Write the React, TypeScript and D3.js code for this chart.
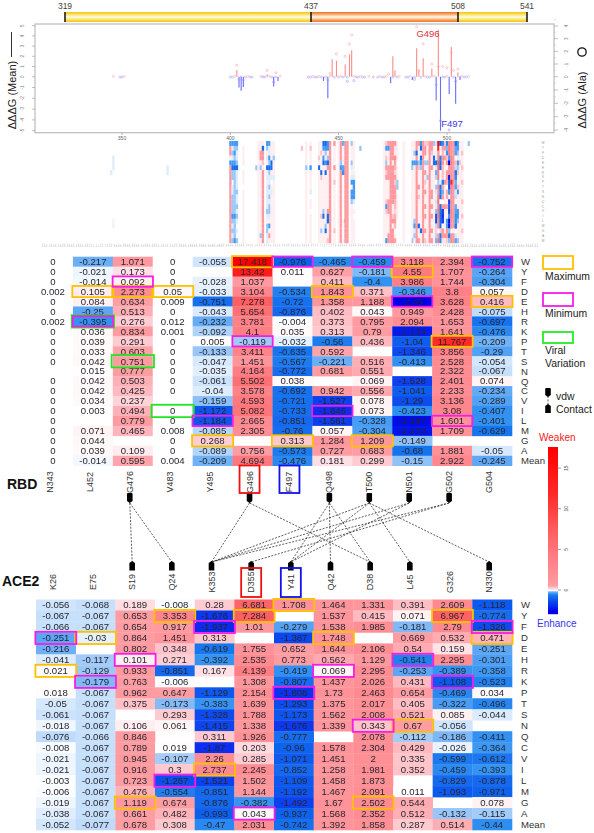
import React, { useEffect, useRef } from "react";
import { select, scaleLinear, scaleBand, range } from "d3";

// ---- heat tables ----
const rowNames = ["W","Y","F","D","E","H","R","K","P","T","S","N","Q","C","V","I","L","M","G","A","Mean"];
const rbdNames = ["N343","L452","G476","V483","Y495","G496","F497","Q498","T500","N501","G502","G504"];
const ace2Names = ["K26","E75","S19","Q24","K353","D355","Y41","Q42","D38","L45","G326","N330"];
const _ = null;

const N343 = [0,0,0,0.002,0,0,0.002,0,0,0,0,_,0,0,0,0,0,0,0,0,0];
const L452 = [-0.217,-0.021,-0.014,0.105,0.084,-0.25,-0.395,0.036,0.039,0.033,0.042,0.015,0.042,0.042,0.034,0.003,_,0.071,0.044,0.039,-0.014];
const G476 = [1.071,0.173,0.092,2.273,0.634,0.513,0.276,0.834,0.291,0.603,0.751,0.777,0.503,0.425,0.237,0.494,0.779,0.465,_,0.109,0.595];
const V483 = [0,0,0,0.05,0.009,0,0.012,0.001,0,0,0,0,0,0,_,0,0,0.008,0,0,0.004];
const Y495 = [-0.055,_,-0.028,-0.033,-0.751,-0.043,-0.232,-0.092,0.005,-0.133,-0.047,-0.035,-0.061,-0.04,-0.159,-1.172,-1.184,-0.085,0.268,-0.089,-0.209];
const G496 = [17.418,13.42,1.037,3.104,7.278,5.654,3.781,4.1,-0.119,3.411,1.451,4.164,5.502,3.578,4.593,5.082,2.665,2.305,_,0.756,4.694];
const F497 = [-0.976,0.011,_,-0.534,-0.72,-0.876,-0.004,0.035,-0.032,-0.635,-0.567,-0.772,0.038,-0.692,-0.721,-0.733,-0.851,-0.76,0.313,-0.573,-0.476];
const Q498 = [-0.465,0.627,0.411,1.843,1.358,0.402,0.373,0.313,-0.56,0.592,-0.221,0.681,_,0.942,-1.527,-1.845,-1.561,0.057,1.284,0.727,0.181];
const T500 = [-0.459,-0.181,-0.4,0.371,1.188,0.043,0.795,0.79,0.436,_,0.516,0.551,0.069,0.556,0.078,0.073,-0.328,-0.304,1.209,0.683,0.299];
const N501 = [3.118,4.55,3.986,-0.346,-2.49,0.949,2.094,-2.134,-1.04,-1.346,-0.413,_,-1.528,-1.041,-1.29,-0.423,-2.397,-2.273,-0.149,-0.68,-0.15];
const G502 = [2.394,1.707,1.744,3.8,3.628,2.428,1.653,1.641,11.767,3.856,2.528,2.322,2.401,2.233,3.136,3.08,1.601,1.709,_,1.881,2.922];
const G504 = [-0.752,-0.264,-0.304,0.057,0.416,-0.075,-0.697,-0.476,-0.209,-0.29,-0.054,-0.067,0.074,-0.234,-0.289,-0.407,-0.401,-0.629,_,-0.05,-0.245];
const rbdColumns = [N343,L452,G476,V483,Y495,G496,F497,Q498,T500,N501,G502,G504];

const K26 = [-0.056,-0.067,-0.066,-0.251,-0.216,-0.041,0.021,_,0.018,-0.05,-0.061,-0.018,-0.076,-0.008,-0.021,-0.021,-0.003,-0.006,-0.019,-0.038,-0.052];
const E75 = [-0.068,-0.067,-0.067,-0.03,_,-0.117,-0.129,-0.179,-0.067,-0.067,-0.067,-0.067,-0.066,-0.067,-0.067,-0.067,-0.067,-0.067,-0.067,-0.067,-0.077];
const S19 = [0.189,0.653,0.654,0.864,0.802,0.101,0.933,0.763,0.962,0.375,_,0.106,0.846,0.789,0.945,0.916,0.723,0.476,1.119,0.661,0.678];
const Q24 = [-0.008,3.353,0.917,1.451,0.348,0.271,-0.851,-0.006,0.647,-0.173,0.293,0.061,_,0.019,-0.107,0.3,-1.267,-0.554,0.674,0.482,0.308];
const K353 = [0.28,-1.676,-1.937,0.313,-0.619,-0.392,0.167,_,-1.129,-0.383,-1.328,-1.415,0.311,-1.87,2.26,2.737,-1.521,-0.851,-0.876,-0.993,-0.47];
const D355 = [6.681,7.284,1.01,_,1.755,2.535,4.139,1.308,2.154,1.639,1.788,1.338,1.926,0.203,0.285,2.245,1.502,1.144,-0.382,0.043,2.031];
const Y41 = [1.708,_,-0.279,-1.387,0.652,0.773,-0.419,-0.807,-1.808,-1.293,-1.173,-1.676,-0.777,-0.96,-1.071,-0.852,-1.109,-1.192,-1.492,-0.937,-0.742];
const Q42 = [1.464,1.537,1.538,1.748,1.644,0.562,0.069,1.437,1.73,1.375,1.562,1.339,_,1.578,1.451,1.258,1.458,1.467,1.67,1.568,1.392];
const D38 = [1.331,0.415,1.985,_,2.106,1.129,2.295,2.026,2.463,2.017,2.008,0.343,2.078,2.304,2,1.981,1.873,2.091,2.502,2.352,1.858];
const L45 = [0.391,0.071,-0.181,0.669,0.54,-0.541,-0.253,0.431,0.654,0.405,0.521,0.67,-0.112,0.429,0.335,0.352,_,0.011,0.544,0.512,0.287];
const G326 = [2.609,6.967,2.79,0.532,0.159,2.295,-0.389,-1.108,-0.469,-0.322,0.085,-0.056,-0.186,-0.026,-0.599,-0.459,-0.829,-1.093,_,-0.132,0.514];
const N330 = [-1.118,-0.774,-1.326,0.471,-0.251,-0.301,-0.358,-0.523,0.034,-0.496,-0.044,_,-0.411,-0.364,-0.612,-0.393,-0.878,-0.971,0.078,-0.115,-0.44];
const ace2Columns = [K26,E75,S19,Q24,K353,D355,Y41,Q42,D38,L45,G326,N330];

// highlighted cells: [column, row]
const rbdMax = [["L452","D"],["G476","D"],["V483","D"],["Y495","G"],["G496","W"],["F497","G"],["Q498","D"],["T500","G"],["N501","Y"],["G502","P"],["G504","E"]];
const rbdMin = [["L452","R"],["G476","F"],["Y495","L"],["G496","P"],["F497","W"],["Q498","I"],["T500","W"],["N501","E"],["G502","L"],["G504","W"]];
const rbdViral = [["L452","R"],["G476","S"],["V483","I"]];
const ace2Max = [["K26","R"],["E75","D"],["S19","G"],["Q24","Y"],["K353","I"],["D355","Y"],["Y41","W"],["Q42","D"],["D38","G"],["L45","N"],["G326","Y"],["N330","D"]];
const ace2Min = [["K26","D"],["E75","K"],["S19","H"],["Q24","L"],["K353","F"],["D355","A"],["Y41","P"],["Q42","R"],["D38","N"],["L45","H"],["G326","K"],["N330","F"]];

// contacts between the RBD and ACE2 residues
const contacts = [["G476","S19"],["G476","Q24"],["G496","K353"],["G496","D38"],["Q498","Y41"],["Q498","Q42"],["Q498","D38"],
  ["T500","K353"],["T500","Y41"],["T500","L45"],["T500","N330"],["N501","K353"],["N501","Y41"],["G502","K353"],["G502","D355"]];
const rbdPins = ["G476","G496","Q498","T500","N501","G502"];
const ace2Pins = ["S19","Q24","K353","D355","Y41","Q42","D38","L45","N330"];

// top panel, ddG per residue
const meanResidues = [403,404,405,406,415,417,420,422,443,445,447,449,453,455,456,474,475,476,484,486,487,489,493,495,496,497,501,502,504,505,506];
const meanValues = [0.65,-1,-1.3,-0.95,0.1,0.25,-0.9,-0.4,-0.4,-2,1.7,1.55,1.2,2.2,2.6,-0.6,2,0.6,-0.3,2.8,0.6,1.8,0.8,-2.2,4.6,-5,-1.6,2.9,-2.5,0.4,-0.3];
const alaResidues = [486,456,455,449,453,403,489,493,496,498,500,505,417,421,487,502,503,446,473,495,497,501,504,454,420,457,445,485,404,406];
const alaValues = [3.95,3.3,2.6,1.8,1.6,0.9,2.6,1,0.8,0.8,0.7,0.6,0.5,0.3,0.5,1.9,0.5,0.25,0.2,-0.6,-3.3,-4,-0.35,-0.35,-0.4,-0.3,-0.25,-0.2,-0.2,-0.25];
const baseResidues = [346,349,350,351,400,401,402,405,407,408,409,410,414,415,416,418,419,421,423,436,437,438,439,440,441,442,444,446,448,450,451,452,454,457,458,459,460,461,462,464,466,468,469,470,471,472,475,477,478,481,482,483,485,488,490,491,492,494,498,499,500,503,506,507,508,509,510];
const leftTicks = [-5,-4,-3,-2,-1,0,1,2,3,4,5];
const rightTicks = [-4,-3,-2,-1,0,1,2,3,4];
const xTicks = [350,400,450,500];
const domainLabels = ["319","437","508","541"];

// small heat panel: residues outside the table, coded per row (W ... Mean)
const heatCodes = { ".":0, ",":0.1, "p":0.35, "r":1.1, "~":-0.04, "b":-0.13, "B":-0.35, "D":-0.8 };
const heatResidues = [345,346,371,400,401,402,403,406,412,413,414,415,417,418,419,420,433,435,437,441,442,443,444,445,446,448,450,451,452,453,454,456,457,460,471,472,473,474,475,477,480,484,485,486,487,488,489,490,491,492,493,494,499,503,505,506,507,510];
const heatValues = [
  "......~..............","...~~~..........,,...",".....~~..............",
  "Brr,Brrrrrrrrrrrrrrrr","B~b~BDbb.~~bbbbBb~b~b","BbBbBDbbbbbbbbbBbbbbB","Bb~~bD~~~~b~~b~b~.~.b",".,,,,.,,,.,,,,,,,,,,,",
  ".....b...............",",,,,,,,,,,,,,,,,,,,,,",",,rr,b,,,,,,,,,,,,,b,",",Drrp,rrrrrrrrrrrrrrr","Bb,~,D,~,~~~~~b~,bb~~","B~~BbDb~~b~b~bb~,B,r,",",,,,DD,~.,~,,,,,,,,,,",",,,b,,,~,,,,,,,,,,,,,",
  ".p...................",",,,,,b,,,,,,,,,,,,,,,",",p,,,B,,,,~.,,.,,,,,,",",,,p,D,,,,,,,,,,,,,,,",",,p,,,Dp,,,,,,,p,,b,,,",
  "DB,BD,,,,,,,,,bD,,,,,","DBb,B,D,,,,,,,,,,bD,,","BB,bDr,,,,,,,,rDD,,,p","rrrrrrrrrrrrrrrrrrrrr","r,,,,r,,p,,,,,,,,,p,,",",,,,,,,,,,,,,,,,,,,,,",
  "rrrrbBrrrrrrrrrrrrrrr","b,~,Db,,,,,,,,,,,,,,,","rrrrrrrrrrrrrrrrrrrrr","rrrrrrrrrrrrrrrrrrrrr","b,,,b~,~B,BBb,,,,,,,,",",,,,,,,~BBBB~.,.,,,,,",".b...................",
  ",,,,,,,,,,,,,,,,,,,,,","pB,pbrpr,,,,pBp,,,,,B","rB,,,rrr,,,,rrr,,,,rr","rrrrrrrrrrrrrrrrrrrrr","rrrr,rrrrrrrr,,pr,rrr",",,,,.,,,bb.,,,,,.....",",,,,,,,,,,,,,,,,,,,,,",
  ",,,,Bb,,,,,,,,,,,,,,b",",,b,B,,,,,,,,,,,bB~b,","rrDrBrrrrrrrrrrrrrrrr","r,,,bp,,,r,p,,,,,D,,r","BD,DBb,,,,,,,,,,,,D,,","rrrrrrrrrrrrrrrrrrrrr","prr,b,r,p,r,,r,r,,r,p","p,,,b,,b,,,,,,,,,,,,,","rrrrrrrrrrrrrrrrrrrrr","rrp,,r,,,,rr,r,r,,r,r","b,,DD,,,,,,,,,,,,,,,,",
  "pr,r,,,,r,,,,r,,,,,r,","rrrrrrrrrrrrrrrrrr,rr","BBb~Bbp,,pB,,,BBb,,,b",",,,,p,,,,,,,,,,,,,,,,",",,p,,p,,p,,,p,,p,,p,,","b....................",
];
const tableResidues = [343,452,476,483,495,496,497,498,500,501,502,504];

const colorbarTicks = [0,5,10,15];

const heatColor = scaleLinear<string>()
  .domain([-2.5,-2,-1.5,-1,-0.6,-0.4,-0.25,-0.1,-0.05,-0.01,0,0.02,0.1,0.28,0.65,2,4,7.3,11.8,17.4])
  .range(["#0000e8","#0828ee","#0a40ee","#0f60ee","#1a78ee","#3292f2","#5ca6f5","#aacff8","#d5e8fc","#f6faff","#ffffff","#fffcfc","#ffeef0","#ffccd2","#ff9da3","#ff8f95","#ff7f85","#ff5f60","#ff2a2a","#ff0000"])
  .clamp(true);

const FONT = "'Liberation Sans', Arial, sans-serif";

function pinPath(x: number, y0: number, y1: number, down: boolean) {
  // rounded pin; the tapered end points at the dashed line
  const w = 2.8;
  if (down) return `M${x-w},${y0+1} Q${x-w},${y0} ${x-w+1},${y0} L${x+w-1},${y0} Q${x+w},${y0} ${x+w},${y0+1} L${x+w},${y1-2} L${x},${y1} L${x-w},${y1-2} Z`;
  return `M${x},${y0} L${x+w},${y0+2} L${x+w},${y1} L${x-w},${y1} L${x-w},${y0+2} Z`;
}

export default function App() {
  const svgRef = useRef<SVGSVGElement>(null);

  useEffect(() => {
    const svg = select(svgRef.current);
    svg.selectAll("*").remove();

    const defs = svg.append("defs");
    defs.append("filter").attr("id", "soft").append("feGaussianBlur").attr("stdDeviation", 0.7);
    defs.append("filter").attr("id", "softer").append("feGaussianBlur").attr("stdDeviation", 0.25);
    const stripe = (id: string, edge: string, mid: string) => {
      const g = defs.append("linearGradient").attr("id", id).attr("x1", 0).attr("x2", 0).attr("y1", 0).attr("y2", 1);
      [[0, edge], [0.25, mid], [0.5, "#fffbe8"], [0.75, mid], [1, edge]].forEach(([o, c]) =>
        g.append("stop").attr("offset", o as number).attr("stop-color", c as string));
    };
    stripe("gold", "#f2c010", "#fbe46a");
    stripe("orange", "#f07020", "#f9b07a");

    const text = (parent: any, x: number, y: number, s: string, size: number, opts: any = {}) =>
      parent.append("text")
        .attr("x", x).attr("y", y).text(s)
        .attr("font-family", FONT).attr("font-size", size)
        .attr("fill", opts.fill || "#222")
        .attr("font-weight", opts.weight || null)
        .attr("text-anchor", opts.anchor || "start")
        .attr("transform", opts.rotate ? `rotate(-90 ${x} ${y})` : null);

    // ---- domain bar ----
    const barX = scaleLinear().domain([0, 1, 2, 3]).range([65, 311, 458, 527]);
    const bar = svg.append("g");
    domainLabels.slice(0, 3).forEach((_d, i) => {
      bar.append("rect").attr("x", barX(i)).attr("y", 12).attr("width", barX(i + 1) - barX(i)).attr("height", 10)
        .attr("fill", i === 1 ? "url(#orange)" : "url(#gold)");
    });
    domainLabels.forEach((d, i) => {
      bar.append("line").attr("x1", barX(i)).attr("x2", barX(i)).attr("y1", 12).attr("y2", 22).attr("stroke", "#111").attr("stroke-width", 1.5);
      text(bar, barX(i), 9, d, 8.5, { anchor: "middle", fill: "#444" });
    });

    // ---- top bars and points ----
    const x = scaleLinear().domain([350, 500]).range([122, 447]);
    const yMean = scaleLinear().domain([-5, 0, 5]).range([130.7, 76.7, 25.7]);
    const yAla = scaleLinear().domain([-4, 0, 4]).range([130, 76.7, 26]);
    const top = svg.append("g");
    top.append("rect").attr("x", 35).attr("y", 24).attr("width", 519).attr("height", 108.7)
      .attr("fill", "none").attr("stroke", "#bbb").attr("stroke-width", 1.2);

    const marks = top.append("g").attr("filter", "url(#softer)");
    marks.selectAll(".mean").data(meanResidues).join("line")
      .attr("x1", d => x(d)).attr("x2", d => x(d))
      .attr("y1", yMean(0)).attr("y2", (_d, i) => yMean(meanValues[i]))
      .attr("stroke", (_d, i) => meanValues[i] > 0 ? "#ff8a8a" : "#6a6aff").attr("stroke-width", 1.1);
    marks.selectAll(".ala").data(alaResidues).join("circle")
      .attr("cx", d => x(d)).attr("cy", (_d, i) => yAla(alaValues[i])).attr("r", 1.1)
      .attr("fill", "none").attr("stroke", (_d, i) => alaValues[i] > 0 ? "#ffa8a8" : "#9a9aff").attr("stroke-width", 0.6);
    marks.selectAll(".base").data(baseResidues).join("circle")
      .attr("cx", d => x(d)).attr("cy", (_d, i) => yAla(i % 3 === 0 ? 0.03 : -0.03)).attr("r", 1)
      .attr("fill", "none").attr("stroke", (_d, i) => i % 3 === 0 ? "#ffb0b0" : "#a8a8ff").attr("stroke-width", 0.6);

    leftTicks.forEach(t => {
      top.append("line").attr("x1", 32).attr("x2", 35).attr("y1", yMean(t)).attr("y2", yMean(t)).attr("stroke", "#999").attr("stroke-width", 0.6);
      text(top, 24, yMean(t), String(t), 4.5, { rotate: true, anchor: "middle", fill: "#777" });
    });
    rightTicks.forEach(t => {
      top.append("line").attr("x1", 554).attr("x2", 558).attr("y1", yAla(t)).attr("y2", yAla(t)).attr("stroke", "#999").attr("stroke-width", 0.6);
      top.append("line").attr("x1", 554).attr("x2", 556).attr("y1", yAla(t + 0.5)).attr("y2", yAla(t + 0.5)).attr("stroke", "#bbb").attr("stroke-width", 0.5);
      text(top, 568, yAla(t), String(t), 4.5, { rotate: true, anchor: "middle", fill: "#777" });
    });
    xTicks.forEach(t => {
      top.append("line").attr("x1", x(t)).attr("x2", x(t)).attr("y1", 132.7).attr("y2", 135).attr("stroke", "#999").attr("stroke-width", 0.7);
      text(top, x(t), 140, String(t), 5, { anchor: "middle", fill: "#666" });
    });

    text(top, 428, 37, "G496", 9.5, { anchor: "middle", fill: "#e5303a" });
    text(top, 452, 127, "F497", 9.5, { anchor: "middle", fill: "#3a3ae0" });
    text(top, 16, 95, "ΔΔΔG (Mean)", 11, { rotate: true, anchor: "middle", fill: "#222" });
    text(top, 586, 100, "ΔΔΔG (Ala)", 11, { rotate: true, anchor: "middle", fill: "#222" });
    top.append("line").attr("x1", 11.5).attr("x2", 11.5).attr("y1", 32).attr("y2", 57).attr("stroke", "#333").attr("stroke-width", 1);
    top.append("circle").attr("cx", 582).attr("cy", 52).attr("r", 4.2).attr("fill", "none").attr("stroke", "#111").attr("stroke-width", 1.3);

    // ---- small heat panel ----
    const heatRow = scaleBand().domain(rowNames).range([141, 243]);
    const heat = svg.append("g").attr("filter", "url(#soft)");
    const w = x(351) - x(350);
    const heatData: { res: number; row: string; v: number }[] = [];
    heatResidues.forEach((res, i) => {
      heatValues[i].padEnd(21, ".").slice(0, 21).split("").forEach((c, r) => {
        heatData.push({ res, row: rowNames[r], v: heatCodes[c] });
      });
    });
    tableResidues.forEach((res, i) => {
      rbdColumns[i].forEach((v, r) => heatData.push({ res, row: rowNames[r], v: v === null ? 0 : v }));
    });
    heat.selectAll("rect").data(heatData.filter(d => d.v !== 0)).join("rect")
      .attr("x", d => x(d.res) - w / 2).attr("width", w + 0.2)
      .attr("y", d => heatRow(d.row)).attr("height", heatRow.bandwidth() + 0.2)
      .attr("fill", d => heatColor(d.v));

    const strip = svg.append("g");
    range(319, 541).forEach((r, i) => {
      const px = 43 + (i * (540 - 43)) / 222;
      text(strip, px, 247, String(r), 2, { rotate: true, fill: "#999" });
    });
    rowNames.forEach(r => {
      text(strip, 543, heatRow(r) + heatRow.bandwidth() / 2 + 1, r === "Mean" ? "M" : r, 3.2, { anchor: "middle", fill: "#999" });
    });

    // ---- large tables ----
    const drawTable = (names: string[], columns: (number | null)[][], x0: number, x1: number, y0: number, y1: number, size: number) => {
      const cx = scaleBand().domain(names).range([x0, x1]);
      const cy = scaleBand().domain(rowNames).range([y0, y1]);
      const g = svg.append("g").attr("filter", "url(#softer)");
      names.forEach((name, c) => {
        const cells = columns[c].map((v, r) => ({ v, row: rowNames[r] })).filter(d => d.v !== null);
        g.selectAll(`.c${c}`).data(cells).join("rect")
          .attr("x", cx(name)).attr("y", d => cy(d.row))
          .attr("width", cx.bandwidth() + 0.3).attr("height", cy.bandwidth() + 0.3)
          .attr("fill", d => heatColor(d.v));
        cells.forEach(d => {
          text(g, cx(name) + cx.bandwidth() / 2, cy(d.row) + cy.bandwidth() / 2 + 3.3, String(d.v), size, { anchor: "middle", fill: "#26262e" });
        });
      });
      return { cx, cy, g };
    };

    const rbd = drawTable(rbdNames, rbdColumns, 33, 512, 256.7, 465.7, 9.6);
    const ace2 = drawTable(ace2Names, ace2Columns, 36, 512, 599.5, 830, 9.6);

    const boxes = (t: any, cells: string[][], color: string, pad: number) => {
      cells.forEach(([c, r]) => {
        t.g.append("rect")
          .attr("x", t.cx(c) - pad).attr("y", t.cy(r) - pad)
          .attr("width", t.cx.bandwidth() + 2 * pad).attr("height", t.cy.bandwidth() + 2 * pad)
          .attr("fill", "none").attr("stroke", color).attr("stroke-width", 1.8);
      });
    };
    boxes(rbd, rbdViral, "#22e622", 1.2);
    boxes(rbd, rbdMax, "#ffc000", 0.6);
    boxes(rbd, rbdMin, "#f81ce8", 0.2);
    boxes(ace2, ace2Max, "#ffc000", 0.6);
    boxes(ace2, ace2Min, "#f81ce8", 0.6);

    rowNames.forEach(r => {
      text(svg, 521, rbd.cy(r) + rbd.cy.bandwidth() / 2 + 3.4, r, 9.6, { fill: "#333" });
      text(svg, 521, ace2.cy(r) + ace2.cy.bandwidth() / 2 + 3.4, r, 9.6, { fill: "#333" });
    });

    // ---- residue labels, pins and contacts ----
    const rbdLabelX = (n: string) => rbd.cx(n) + rbd.cx.bandwidth() / 2 - 3;
    const ace2LabelX = (n: string) => ace2.cx(n) + ace2.cx.bandwidth() / 2 - 3;
    rbdNames.forEach(n => text(svg, rbdLabelX(n) + 3, 482, n, 9, { rotate: true, anchor: "middle", fill: "#333" }));
    ace2Names.forEach(n => text(svg, ace2LabelX(n) + 3, 582, n, 9, { rotate: true, anchor: "middle", fill: "#333" }));

    const links = svg.append("g");
    contacts.forEach(([a, b]) => {
      links.append("line")
        .attr("x1", rbdLabelX(a)).attr("y1", 503)
        .attr("x2", ace2LabelX(b)).attr("y2", 562)
        .attr("stroke", "#333").attr("stroke-width", 0.8).attr("stroke-dasharray", "2 1.4");
    });
    rbdPins.forEach(n => links.append("path").attr("d", pinPath(rbdLabelX(n), 493, 503, true)).attr("fill", "#000"));
    ace2Pins.forEach(n => links.append("path").attr("d", pinPath(ace2LabelX(n), 561, 570.5, false)).attr("fill", "#000"));

    text(svg, 7, 489, "RBD", 14, { weight: "bold", fill: "#111" });
    text(svg, 2, 586, "ACE2", 14, { weight: "bold", fill: "#111" });

    const frame = (xMid: number, y0: number, y1: number, color: string) =>
      svg.append("rect").attr("x", xMid - 10).attr("y", y0).attr("width", 20).attr("height", y1 - y0)
        .attr("fill", "none").attr("stroke", color).attr("stroke-width", 1.8);
    frame(rbdLabelX("G496"), 465.5, 493, "#f01010");
    frame(rbdLabelX("F497"), 465.5, 493, "#1010f0");
    frame(ace2LabelX("D355"), 568, 597, "#f01010");
    frame(ace2LabelX("Y41"), 568, 597, "#1010f0");

    // ---- legend ----
    const legend = svg.append("g");
    const legendBox = (y0: number, y1: number, color: string) =>
      legend.append("rect").attr("x", 543).attr("y", y0).attr("width", 30).attr("height", y1 - y0)
        .attr("fill", "#fff").attr("stroke", color).attr("stroke-width", 1.8);
    legendBox(256, 269, "#ffc000");
    legendBox(293, 306, "#f81ce8");
    legendBox(332, 343, "#22ee22");
    text(legend, 545, 280, "Maximum", 10.4, { fill: "#222" });
    text(legend, 545, 317, "Minimum", 10.4, { fill: "#222" });
    text(legend, 545, 354, "Viral", 10.4, { fill: "#222" });
    text(legend, 545, 367, "Variation", 10.4, { fill: "#222" });
    legend.append("line").attr("x1", 548).attr("x2", 548).attr("y1", 396).attr("y2", 405).attr("stroke", "#333").attr("stroke-width", 0.8).attr("stroke-dasharray", "2 1.4");
    legend.append("path").attr("d", pinPath(548, 388, 397, true)).attr("fill", "#000");
    legend.append("path").attr("d", pinPath(548, 404, 413, false)).attr("fill", "#000");
    text(legend, 556, 400, "vdw", 10.4, { fill: "#222" });
    text(legend, 556, 413, "Contact", 10.4, { fill: "#222" });

    // ---- colour bar ----
    const barY = scaleLinear().domain([0, 17.6]).range([590, 447]);
    const cb = svg.append("g");
    range(447, 614).forEach(py => {
      cb.append("rect").attr("x", 548).attr("width", 10).attr("y", py).attr("height", 1.2)
        .attr("fill", heatColor(barY.invert(py)));
    });
    colorbarTicks.forEach(t => {
      cb.append("line").attr("x1", 558).attr("x2", 561).attr("y1", barY(t)).attr("y2", barY(t)).attr("stroke", "#555").attr("stroke-width", 0.6);
      text(cb, 568, barY(t), String(t), 5, { rotate: true, anchor: "middle", fill: "#444" });
    });
    text(cb, 539, 441, "Weaken", 10, { fill: "#ee2222" });
    text(cb, 537, 627, "Enhance", 10, { fill: "#3636f0" });
  }, []);

  return (
    <svg ref={svgRef} width={594} height={833} style={{ position: "absolute", left: 0, top: 0, background: "#fff" }} />
  );
}
